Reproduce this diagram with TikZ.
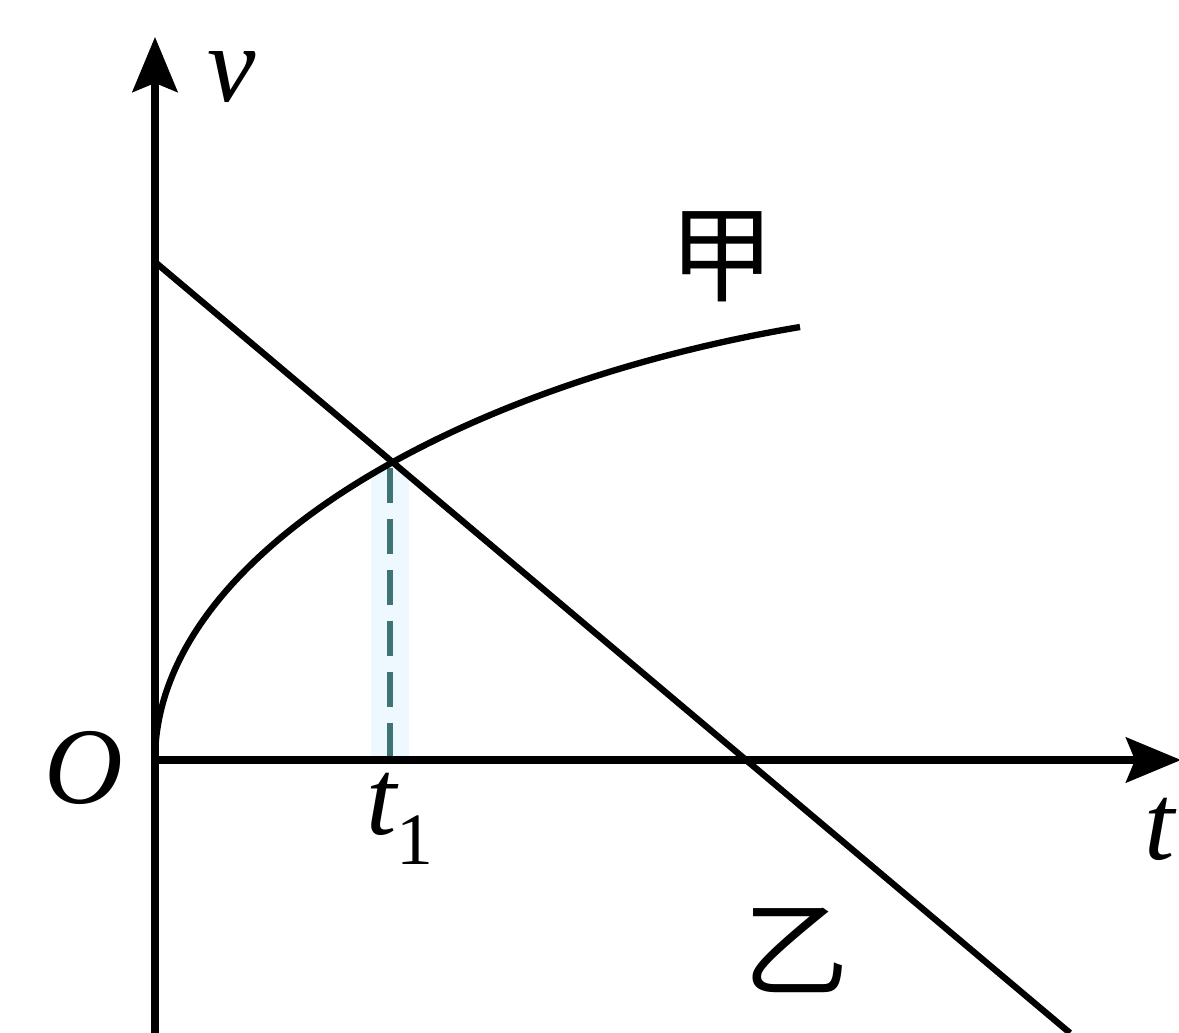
\documentclass[tikz,border=0pt]{standalone}
\usepackage{fontspec}
\setmainfont{Liberation Serif}
\newfontfamily\cjk{Noto Sans CJK SC}
\usetikzlibrary{arrows.meta}
\tikzset{
  axisline/.style={line width=4pt,-{Stealth[length=1.1cm,width=0.9cm,inset=0.18cm]}},
  graphline/.style={line width=3.6pt},
  lbl/.style={inner sep=0pt,font=\fontsize{62}{62}\selectfont\itshape},
  cjklbl/.style={inner sep=0pt,font=\fontsize{60}{60}\selectfont\cjk},
  halo/.style={line width=22pt,color=cyan!7},
  dashline/.style={line width=3pt,color=teal!55!black!75,dash pattern=on 20pt off 9pt}
}
\begin{document}
\begin{tikzpicture}[x=0.02cm,y=-0.02cm]
\useasboundingbox[fill=white] (0,0) rectangle (1179,1033);
% key points
\coordinate (O) at (155,760);
\coordinate (ybot) at (155,1040);
\coordinate (ytop) at (155,37);
\coordinate (xend) at (1181,760);
\coordinate (vi) at (155,262);
\coordinate (P) at (390,460);
\coordinate (Pf) at (390,760);
\coordinate (ve) at (1070,1033);
\coordinate (je) at (800,327);
% dashed drop line
\draw[halo] (390,470) -- (Pf);
\draw[dashline] (390,468) -- (Pf);
% axes
\draw[axisline] (ybot) -- (ytop);
\draw[axisline] (O) -- (xend);
% line yi
\draw[graphline] (vi) -- (ve);
% curve jia
\draw[graphline] (O) .. controls (155,558) and (450,386) .. (je);
% labels
\node[lbl] (vl) at (232,77) {v};
\node[lbl] (Ol) at (84,768) {O};
\node[lbl] (tl) at (1160,829) {t};
\node[lbl,anchor=base west] (t1) at (366,834) {t\raisebox{-0.28em}{\upshape\fontsize{42}{42}\selectfont 1}};
\node[cjklbl] (jia) at (722,257) {甲};
\node[cjklbl] (yi) at (796,950) {乙};
\end{tikzpicture}
\end{document}
